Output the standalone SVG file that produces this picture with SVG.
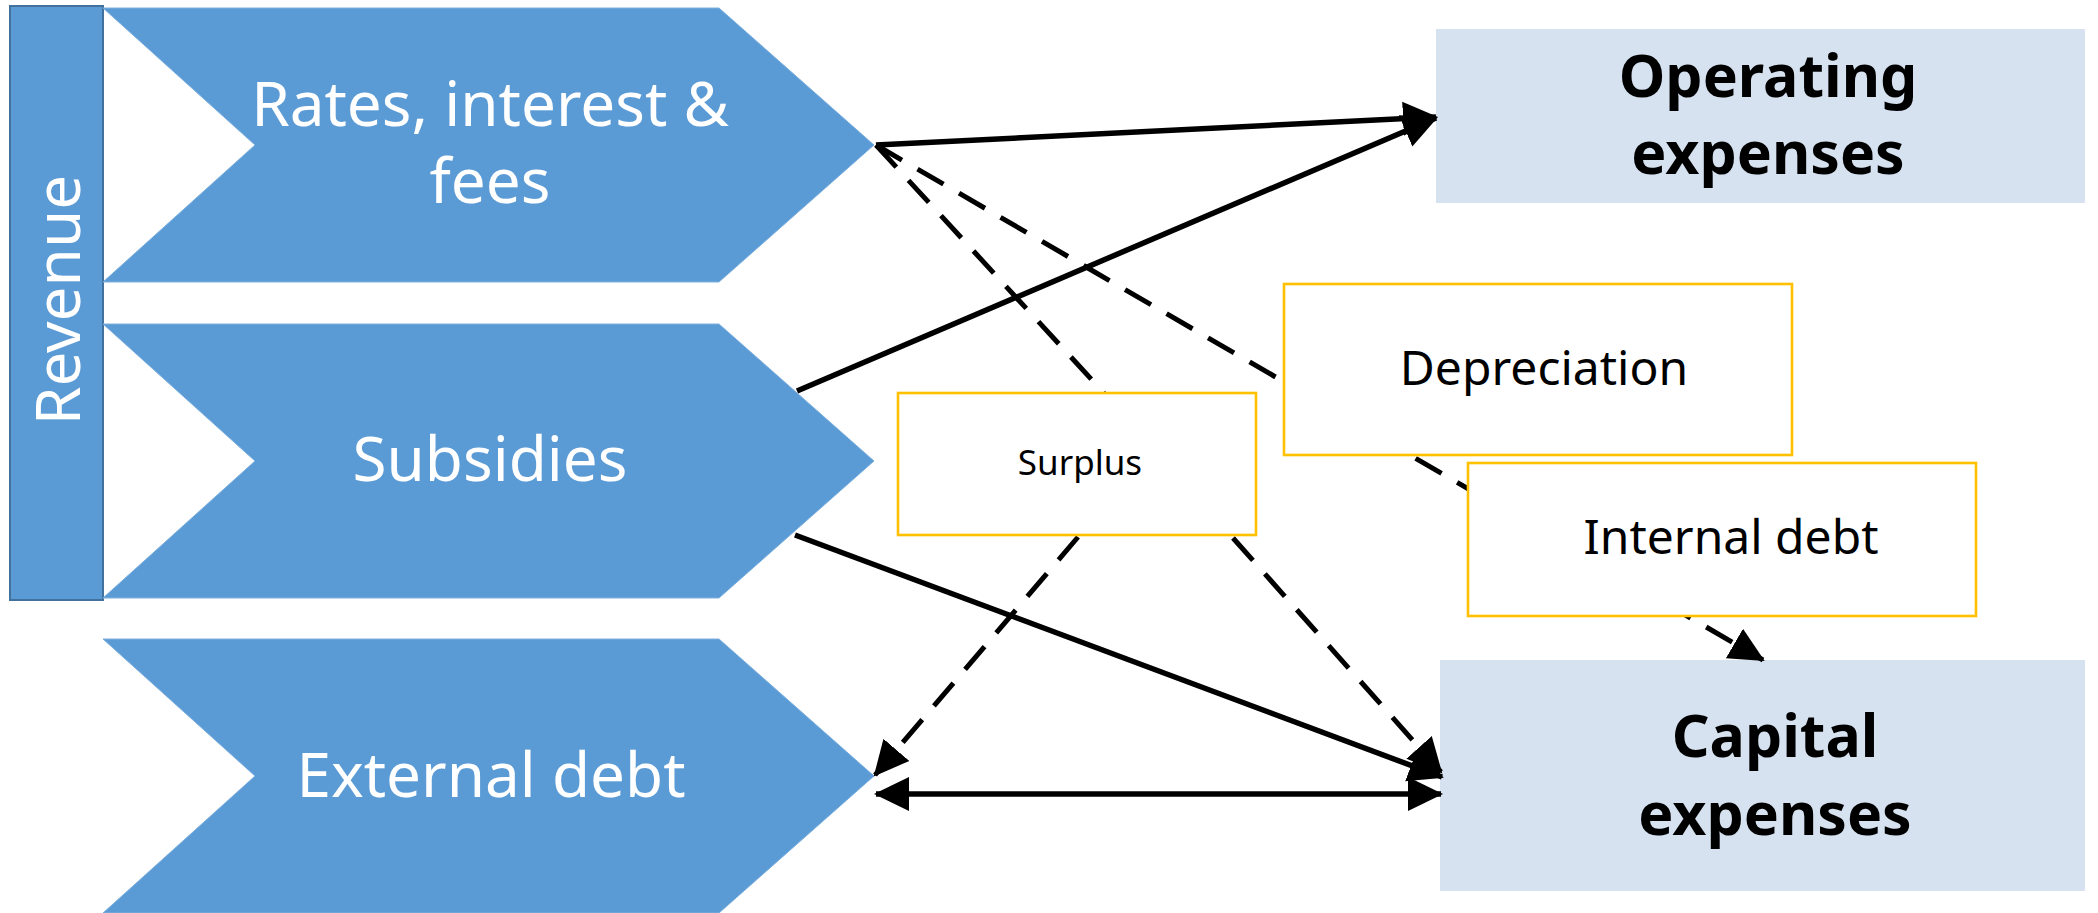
<svg xmlns="http://www.w3.org/2000/svg" width="2098" height="913" viewBox="0 0 2098 913">
<style>
.chev{fill:#5B9BD5;stroke:#7EB0DE;stroke-width:1}
.wt{font-family:"Noto Sans","Open Sans",sans-serif;font-size:62px;fill:#FFFFFF;text-anchor:middle}
.exp{fill:#D6E2F0}
.bt{font-family:"Noto Sans","Open Sans",sans-serif;font-size:59px;font-weight:bold;fill:#000;text-anchor:middle}
.gold{fill:#FFFFFF;stroke:#FFC000;stroke-width:2.6}
.gt{font-family:"Noto Sans","Open Sans",sans-serif;font-size:48px;fill:#000;text-anchor:middle}
.st{font-family:"Noto Sans","Open Sans",sans-serif;font-size:35px;fill:#000;text-anchor:middle}
.solid{stroke:#000;stroke-width:5.5;fill:none}
.dash{stroke:#000;stroke-width:5;fill:none;stroke-dasharray:30 18}
</style>
<defs>
<marker id="ah" markerUnits="userSpaceOnUse" markerWidth="36" markerHeight="36" refX="33" refY="17" orient="auto-start-reverse" viewBox="0 0 36 34">
<path d="M0,0 L35,17 L0,34 Z" fill="#000"/>
</marker>
</defs>

<g id="revenue">
<rect x="10" y="6" width="93" height="594" fill="#5B9BD5" stroke="#41719C" stroke-width="2"/>
<text class="wt" transform="translate(80,300) rotate(-90)">Revenue</text>
</g>

<g id="rates">
<polygon class="chev" points="103,8 719,8 874,145 719,282 103,282 255,145"/>
<text class="wt" x="490" y="126">Rates, interest &amp;</text>
<text class="wt" x="490" y="203">fees</text>
</g>

<g id="subsidies">
<polygon class="chev" points="103,324 719,324 874,461 719,598 103,598 255,461"/>
<text class="wt" x="490" y="481">Subsidies</text>
</g>

<g id="external-debt">
<polygon class="chev" points="103,639 719,639 874,776 719,913 103,913 255,776"/>
<text class="wt" x="491" y="797">External debt</text>
</g>

<g id="operating-expenses">
<rect class="exp" x="1436" y="29" width="649" height="174"/>
<text class="bt" x="1768" y="97">Operating</text>
<text class="bt" x="1768" y="174">expenses</text>
</g>

<g id="capital-expenses">
<rect class="exp" x="1440" y="660" width="645" height="231"/>
<text class="bt" x="1775" y="757">Capital</text>
<text class="bt" x="1775" y="835">expenses</text>
</g>

<g id="connectors">
<line class="solid" x1="876" y1="145" x2="1436" y2="117" marker-end="url(#ah)"/>
<line class="solid" x1="797" y1="391" x2="1436" y2="118" marker-end="url(#ah)"/>
<line class="solid" x1="795" y1="535" x2="1442" y2="777" marker-end="url(#ah)"/>
<line class="solid" x1="876" y1="794" x2="1441" y2="794" marker-start="url(#ah)" marker-end="url(#ah)"/>
<line class="dash" x1="876" y1="145" x2="1104" y2="393"/>
<line class="dash" x1="876" y1="145" x2="1763" y2="660" marker-end="url(#ah)"/>
<line class="dash" x1="1233" y1="538" x2="1441" y2="772" marker-end="url(#ah)"/>
<line class="dash" x1="1078" y1="537" x2="875" y2="775" marker-end="url(#ah)"/>
</g>

<g id="surplus">
<rect class="gold" x="898" y="393" width="358" height="142"/>
<text class="st" x="1080" y="475">Surplus</text>
</g>

<g id="depreciation">
<rect class="gold" x="1284" y="284" width="508" height="171"/>
<text class="gt" x="1544" y="385">Depreciation</text>
</g>

<g id="internal-debt">
<rect class="gold" x="1468" y="463" width="508" height="153"/>
<text class="gt" x="1731" y="554">Internal debt</text>
</g>
</svg>
